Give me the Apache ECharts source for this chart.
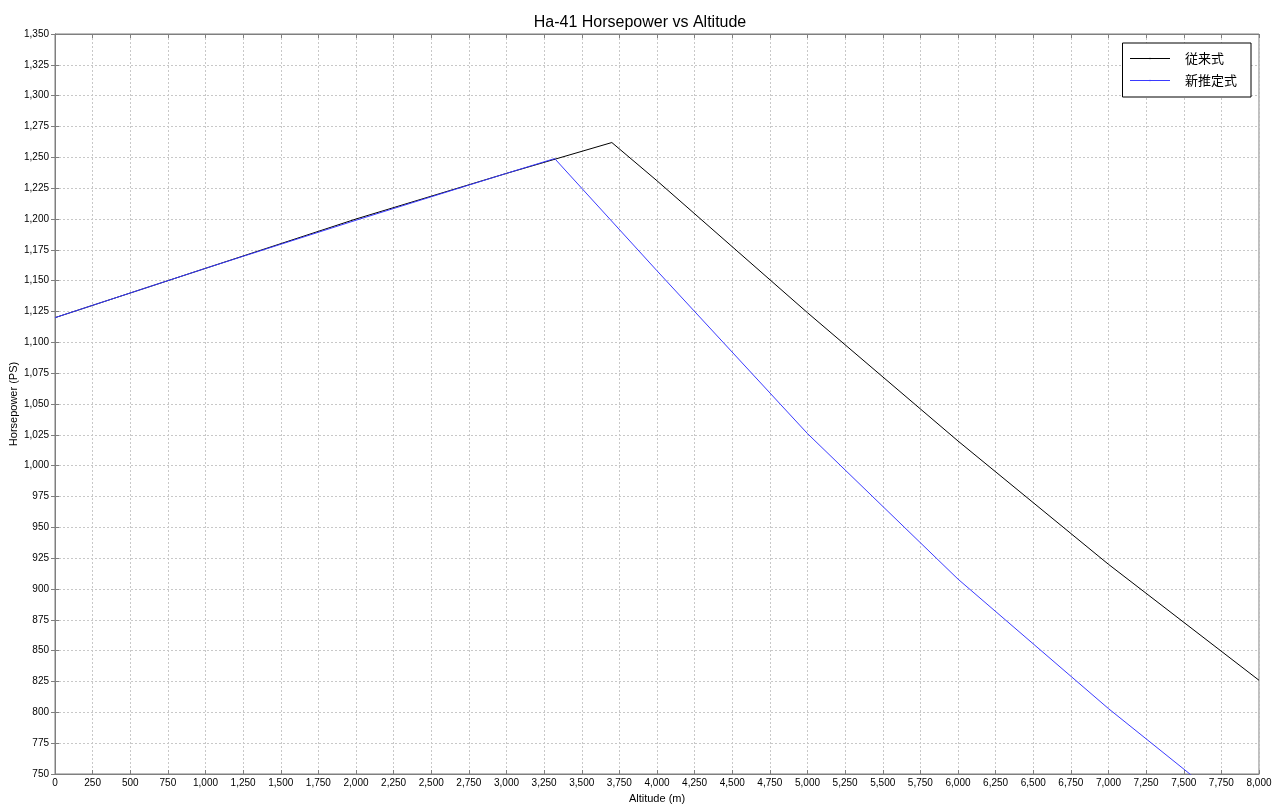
<!DOCTYPE html>
<html>
<head>
<meta charset="utf-8">
<script src="https://cdn.jsdelivr.net/npm/echarts@6/dist/echarts.min.js"></script>
<style>
  html, body { margin: 0; padding: 0; background: #fff; }
  #chart { width: 1280px; height: 812px; }
</style>
</head>
<body>
<div id="chart"></div>
<script>
// altitude (m) / horsepower (PS)
const oldAlt = [0, 1000, 2000, 3000, 3700, 4000, 5000, 6000, 7000, 8000];
const oldHp = [1120, 1160, 1200, 1237, 1262, 1231, 1124, 1020, 920, 826];
const newAlt = [0, 1000, 2000, 3000, 3320, 4000, 5000, 6000, 7000, 8000];
const newHp = [1120, 1160, 1199, 1237, 1249, 1158, 1026, 908, 803, 705];
const seriesNames = ["従来式", "新推定式"];

const chart = echarts.init(document.getElementById("chart"));
const font = "'Liberation Sans', 'DejaVu Sans', sans-serif";
const frame = "#7f7f7f";
const gridLine = { show: true, lineStyle: { color: "#c8c8c8", type: [2, 2], width: 1 } };

const fmt = (v) => v.toLocaleString("en-US");

const option = {
  animation: false,
  backgroundColor: "#fff",
  title: {
    text: "Ha-41 Horsepower vs Altitude",
    left: "center",
    top: 10,
    textStyle: { fontFamily: font, fontSize: 16, fontWeight: "normal", color: "#000" },
  },
  legend: {
    orient: "vertical",
    right: 29,
    top: 43,
    padding: [9, 14, 10, 7],
    itemGap: 9,
    itemWidth: 40,
    itemHeight: 2,
    lineStyle: { width: 1 },
    borderColor: "#000",
    borderWidth: 1,
    backgroundColor: "#fff",
    textStyle: { fontFamily: "'Noto Sans CJK JP', sans-serif", fontSize: 13, color: "#000", padding: [0, 0, 0, 10] },
    data: seriesNames,
  },
  grid: {
    left: 55, right: 21, top: 34, bottom: 38,
    outerBoundsMode: "none",
    show: true, borderColor: frame, borderWidth: 1,
  },
  xAxis: [
    {
      type: "value",
      min: 0,
      max: 8000,
      interval: 250,
      name: "Altitude (m)",
      nameLocation: "middle",
      nameGap: 19,
      nameMoveOverlap: false,
      nameTextStyle: { fontFamily: font, fontSize: 11, color: "#000" },
      axisLine: { show: true, lineStyle: { color: frame } },
      axisTick: { show: true, inside: true, length: 4, lineStyle: { color: frame } },
      axisLabel: { fontFamily: font, fontSize: 10, color: "#000", margin: 4, formatter: fmt },
      splitLine: gridLine,
    },
    {
      type: "value",
      position: "top",
      min: 0,
      max: 8000,
      interval: 250,
      axisLine: { show: true, lineStyle: { color: frame } },
      axisTick: { show: true, inside: true, length: 4, lineStyle: { color: frame } },
      axisLabel: { show: false },
      splitLine: { show: false },
    },
  ],
  yAxis: [
    {
      type: "value",
      min: 750,
      max: 1350,
      interval: 25,
      name: "Horsepower (PS)",
      nameLocation: "middle",
      nameGap: 36,
      nameMoveOverlap: false,
      nameTextStyle: { fontFamily: font, fontSize: 11, color: "#000" },
      axisLine: { show: true, lineStyle: { color: frame } },
      axisTick: { show: true, inside: true, length: 4, lineStyle: { color: frame } },
      axisLabel: { fontFamily: font, fontSize: 10, color: "#000", margin: 6, formatter: fmt },
      splitLine: gridLine,
    },
    {
      type: "value",
      position: "right",
      min: 750,
      max: 1350,
      interval: 25,
      axisLine: { show: true, lineStyle: { color: frame } },
      axisTick: { show: true, inside: true, length: 4, lineStyle: { color: frame } },
      axisLabel: { show: false },
      splitLine: { show: false },
    },
  ],
  series: [
    {
      name: seriesNames[0],
      type: "line",
      symbol: "none",
      clip: true,
      color: "#000",
      lineStyle: { color: "#000", width: 1 },
      data: oldAlt.map((a, i) => [a, oldHp[i]]),
    },
    {
      name: seriesNames[1],
      type: "line",
      symbol: "none",
      clip: true,
      color: "#3a3aff",
      lineStyle: { color: "#3a3aff", width: 1 },
      data: newAlt.map((a, i) => [a, newHp[i]]),
    },
  ],
};

chart.setOption(option);
</script>
</body>
</html>
